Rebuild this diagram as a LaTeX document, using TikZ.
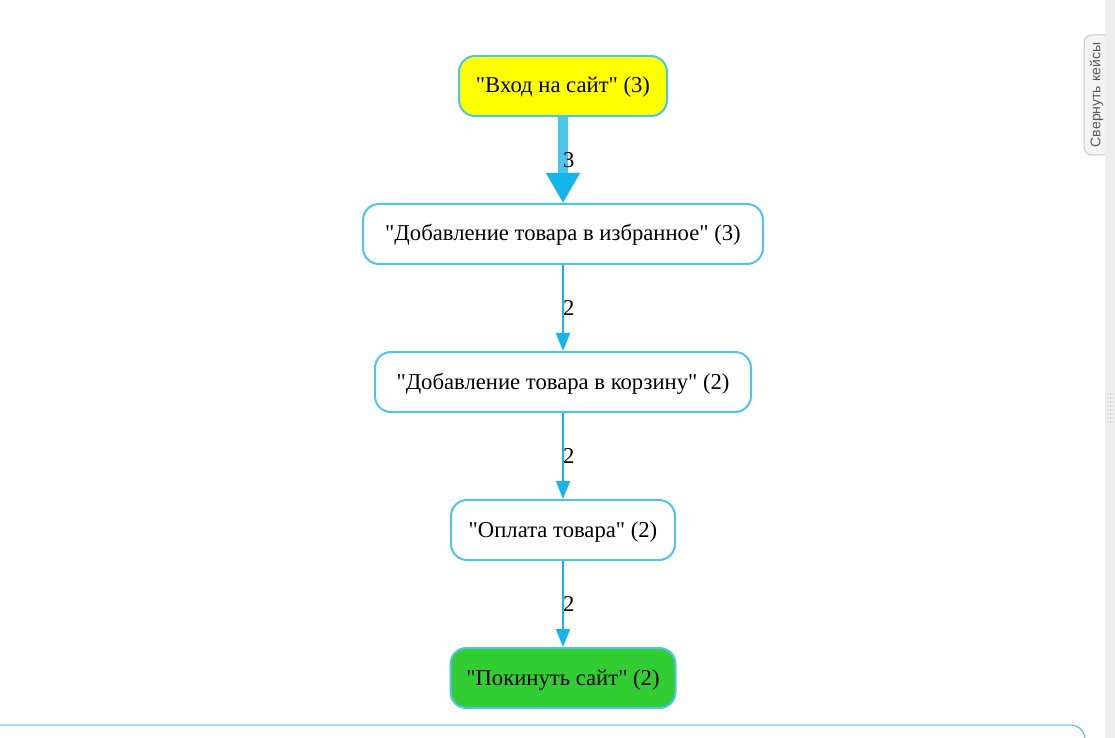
\documentclass[tikz,border=0pt]{standalone}
\usepackage{fontspec}
\setmainfont{Liberation Serif}[Ligatures=TeXOff]
\newfontfamily\uifont{Liberation Sans}
\usetikzlibrary{arrows.meta, positioning}
\definecolor{edgeblue}{RGB}{20, 181, 236}
\definecolor{shaftblue}{RGB}{76, 199, 236}
\definecolor{nodeborder}{RGB}{77, 196, 234}
\definecolor{startyellow}{RGB}{255, 255, 0}
\definecolor{endgreen}{RGB}{50, 205, 50}
\definecolor{panelgray}{RGB}{238, 238, 238}
\definecolor{tabgray}{RGB}{244, 244, 244}
\definecolor{tabborder}{RGB}{200, 200, 200}
\definecolor{panelline}{RGB}{80, 185, 215}
\tikzset{
  evt/.style        = {rectangle, rounded corners=12pt, draw=nodeborder, line width=1.5pt, fill=white, minimum height=45pt, inner sep=0pt, text height=13.5pt, text depth=3pt, font=\fontsize{17}{20}\selectfont},
  evtstart/.style   = {evt, fill=startyellow},
  evtend/.style     = {evt, fill=endgreen},
  trans/.style      = {-{Triangle[length=13.5pt, width=10.5pt]}, line width=1.1pt, edgeblue},
  transmain/.style  = {-{Triangle[length=22.5pt, width=24pt, color=edgeblue]}, line width=7.5pt, shaftblue},
  cnt/.style        = {anchor=west, inner sep=0pt, outer sep=0pt, text=black, font=\fontsize{17}{20}\selectfont},
}

\begin{document}
\begin{tikzpicture}[x=0.75pt, y=-0.75pt]
  % рамка как у скриншота
  \useasboundingbox (0,0) rectangle (1115,738);
  \fill[white] (0,0) rectangle (1115,738);

  % боковая панель
  \fill[panelgray] (1105,0) rectangle (1115,738);
  \draw[tabborder, fill=tabgray, rounded corners=6pt, line width=0.75pt] (1105,35) -- (1084,35) -- (1084,155) -- (1105,155);
  \node[rotate=90, text=black!65, font=\uifont\fontsize{10.5}{12}\selectfont] (fold) at (1096.5,95) {Свернуть кейсы};
  \foreach \yy in {394,398,...,422}
    \foreach \xx in {1108,1110.5,1113}
      \fill[black!25] (\xx,\yy) circle (0.45pt);

  % нижняя панель
  \draw[panelline, line width=0.75pt, rounded corners=9pt] (0,725) -- (1083,725) -- (1086,745);

  % события
  \node[evtstart, minimum width=156pt] (visit) at (563,86)  {"Вход на сайт" (3)};
  \node[evt, minimum width=300pt]      (fav)   at (563,234) {"Добавление товара в избранное" (3)};
  \node[evt, minimum width=282pt]      (cart)  at (563,382) {"Добавление товара в корзину" (2)};
  \node[evt, minimum width=168pt]      (pay)   at (563,530) {"Оплата товара" (2)};
  \node[evtend, minimum width=168.75pt] (leave) at (563,678) {"Покинуть сайт" (2)};

  % переходы
  \draw[transmain] (visit) -- node[cnt] {3} (fav);
  \draw[trans] (fav)  -- node[cnt] {2} (cart);
  \draw[trans] (cart) -- node[cnt] {2} (pay);
  \draw[trans] (pay)  -- node[cnt] {2} (leave);
\end{tikzpicture}
\end{document}
